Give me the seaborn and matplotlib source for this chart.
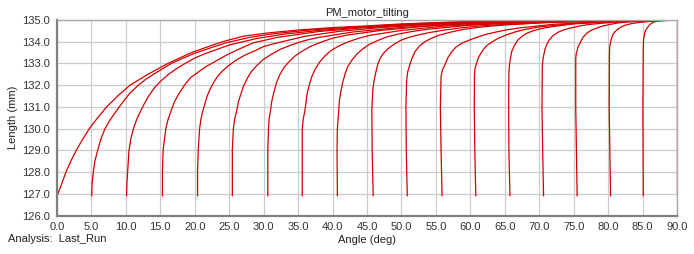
import matplotlib
matplotlib.use("Agg")
import matplotlib.pyplot as plt
import seaborn as sns
import pandas as pd

# ---------------- data ----------------
curve_00 = [(0.0, 126.9), (0.5, 127.3), (1.3, 128.0), (2.0, 128.5), (2.8, 129.0), (3.7, 129.5),
            (4.7, 130.0), (5.9, 130.5), (7.2, 131.0), (8.8, 131.5), (10.6, 132.0), (13.2, 132.5),
            (16.1, 133.0), (19.5, 133.5), (24.0, 134.0), (27.0, 134.25), (30.5, 134.4), (35.0, 134.54),
            (40.0, 134.65), (45.0, 134.73), (50.0, 134.82), (57.0, 134.9), (65.0, 134.96), (75.0, 134.99),
            (90.0, 135.0)]
curve_05 = [(5.03, 126.9), (5.1, 127.5), (5.27, 128.0), (5.5, 128.5), (5.9, 129.0), (6.35, 129.5),
            (6.97, 130.0), (7.7, 130.4), (8.7, 130.85), (9.5, 131.2), (10.5, 131.6), (11.8, 132.0),
            (12.8, 132.25), (14.0, 132.5), (16.6, 133.0), (19.8, 133.45), (24.5, 133.95), (28.0, 134.2),
            (31.0, 134.35), (36.0, 134.52), (41.0, 134.64), (46.0, 134.72), (52.0, 134.83), (60.0, 134.92),
            (70.0, 134.97), (90.0, 135.0)]
curve_10 = [(10.1, 126.9), (10.15, 127.5), (10.25, 128.0), (10.45, 129.0), (10.7, 129.5), (11.1, 130.0),
            (11.6, 130.45), (12.2, 130.85), (12.6, 131.1), (13.3, 131.5), (14.2, 131.9), (15.1, 132.2),
            (16.2, 132.5), (17.3, 132.75), (18.6, 133.0), (20.0, 133.25), (21.5, 133.45), (25.0, 133.85),
            (29.0, 134.15), (33.0, 134.35), (38.0, 134.52), (44.0, 134.66), (50.0, 134.77), (58.0, 134.88),
            (68.0, 134.96), (90.0, 135.0)]
curve_15 = [(15.3, 126.9), (15.3, 128.0), (15.4, 129.0), (15.8, 130.0), (16.1, 130.4), (16.6, 130.85),
            (17.0, 131.2), (17.5, 131.5), (18.5, 132.0), (19.4, 132.35), (20.5, 132.6), (21.6, 132.85),
            (23.0, 133.1), (24.4, 133.35), (26.0, 133.6), (28.5, 133.95), (32.0, 134.2), (38.0, 134.47),
            (44.0, 134.63), (50.0, 134.75), (58.0, 134.86), (68.0, 134.95), (90.0, 135.0)]
curve_20 = [(20.4, 126.9), (20.4, 128.0), (20.5, 129.0), (20.7, 130.0), (20.9, 130.45), (21.2, 130.85),
            (21.8, 131.5), (22.2, 131.8), (22.7, 132.1), (23.3, 132.4), (24.0, 132.65), (24.9, 132.9),
            (26.0, 133.15), (27.2, 133.37), (28.5, 133.55), (30.0, 133.78), (32.0, 133.95), (36.0, 134.25),
            (41.0, 134.48), (47.0, 134.65), (54.0, 134.79), (62.0, 134.9), (72.0, 134.96), (90.0, 135.0)]
curve_25 = [(25.45, 126.9), (25.45, 129.0), (25.6, 130.0), (25.8, 130.45), (26.1, 130.85), (26.35, 131.25),
            (26.7, 131.6), (27.1, 131.97), (27.6, 132.3), (28.2, 132.62), (29.0, 132.9), (29.9, 133.17),
            (31.0, 133.4), (32.4, 133.65), (34.0, 133.85), (35.8, 134.04), (38.0, 134.2), (43.0, 134.45),
            (49.0, 134.63), (56.0, 134.78), (64.0, 134.89), (74.0, 134.96), (90.0, 135.0)]
curve_30 = [(30.6, 126.9), (30.6, 129.0), (30.7, 130.0), (30.8, 130.45), (31.0, 130.85), (31.2, 131.3),
            (31.5, 131.7), (31.85, 132.1), (32.3, 132.45), (32.9, 132.8), (33.6, 133.05), (34.5, 133.33),
            (35.5, 133.55), (36.9, 133.8), (38.5, 134.0), (40.0, 134.16), (42.0, 134.3), (47.0, 134.52),
            (53.0, 134.7), (60.0, 134.83), (68.0, 134.92), (77.0, 134.97), (90.0, 135.0)]
curve_35 = [(35.6, 126.9), (35.6, 130.0), (35.75, 130.45), (36.0, 130.85), (36.3, 131.6), (36.6, 132.0),
            (37.0, 132.4), (37.5, 132.75), (38.1, 133.05), (38.9, 133.35), (39.8, 133.6), (41.0, 133.82),
            (42.3, 134.0), (43.8, 134.16), (45.5, 134.3), (50.0, 134.52), (56.0, 134.71), (63.0, 134.84),
            (71.0, 134.93), (80.0, 134.97), (90.0, 135.0)]
curve_40 = [(40.7, 126.9), (40.65, 129.0), (40.7, 130.0), (40.9, 130.85), (41.0, 131.3), (41.2, 131.7),
            (41.45, 132.1), (41.8, 132.5), (42.2, 132.85), (42.8, 133.15), (43.5, 133.42), (44.3, 133.65),
            (45.3, 133.87), (46.5, 134.05), (47.9, 134.22), (49.5, 134.35), (51.5, 134.47), (54.0, 134.58),
            (60.0, 134.76), (67.0, 134.87), (75.0, 134.94), (90.0, 135.0)]
curve_45 = [(45.9, 126.9), (45.75, 129.0), (45.7, 130.85), (45.85, 131.8), (46.05, 132.25), (46.3, 132.62),
            (46.55, 132.95), (46.9, 133.23), (47.4, 133.47), (48.1, 133.69), (49.0, 133.9), (50.0, 134.08),
            (51.1, 134.2), (52.4, 134.31), (54.2, 134.43), (56.3, 134.54), (58.5, 134.63), (61.1, 134.72),
            (65.0, 134.8), (72.0, 134.9), (80.0, 134.96), (90.0, 135.0)]
curve_50 = [(50.85, 126.9), (50.7, 129.0), (50.65, 131.0), (50.75, 132.2), (50.9, 132.6), (51.2, 132.93),
            (51.55, 133.25), (51.96, 133.54), (52.6, 133.8), (53.4, 134.0), (54.3, 134.15), (55.3, 134.28),
            (56.5, 134.39), (57.8, 134.49), (59.3, 134.58), (61.2, 134.66), (63.0, 134.72), (65.0, 134.77),
            (71.0, 134.88), (79.0, 134.95), (90.0, 135.0)]
curve_55 = [(55.9, 126.9), (55.75, 129.0), (55.65, 131.0), (55.75, 132.4), (55.95, 132.7), (56.3, 132.93),
            (56.75, 133.27), (57.3, 133.54), (57.9, 133.75), (58.7, 133.92), (59.8, 134.07), (61.2, 134.23),
            (62.3, 134.34), (63.5, 134.43), (65.0, 134.53), (67.0, 134.63), (72.0, 134.8), (79.0, 134.92),
            (90.0, 135.0)]
curve_60 = [(60.8, 126.9), (60.65, 129.0), (60.57, 131.0), (60.6, 132.5), (60.7, 132.8), (60.9, 133.0),
            (61.15, 133.25), (61.5, 133.45), (61.95, 133.67), (62.5, 133.85), (63.2, 134.0), (64.0, 134.15),
            (65.1, 134.3), (66.5, 134.45), (68.0, 134.57), (70.0, 134.68), (75.0, 134.84), (82.0, 134.94),
            (90.0, 135.0)]
curve_65 = [(65.75, 126.9), (65.6, 129.0), (65.56, 131.0), (65.6, 132.6), (65.7, 132.95), (65.8, 133.2),
            (66.0, 133.54), (66.4, 133.83), (66.9, 134.08), (67.5, 134.25), (68.2, 134.39), (69.1, 134.5),
            (70.1, 134.59), (71.2, 134.66), (72.5, 134.72), (75.0, 134.82), (79.0, 134.9), (84.0, 134.96),
            (90.0, 135.0)]
curve_70 = [(70.63, 126.9), (70.5, 129.0), (70.4, 131.0), (70.45, 132.9), (70.55, 133.2), (70.7, 133.45),
            (70.85, 133.67), (71.07, 133.85), (71.45, 134.08), (72.0, 134.28), (72.7, 134.43), (73.5, 134.54),
            (74.4, 134.62), (75.4, 134.69), (76.3, 134.75), (77.4, 134.8), (80.5, 134.89), (85.0, 134.95),
            (90.0, 135.0)]
curve_75 = [(75.5, 126.9), (75.4, 129.0), (75.3, 131.0), (75.3, 133.2), (75.35, 133.42), (75.5, 133.6),
            (75.65, 133.78), (75.9, 133.92), (76.3, 134.18), (76.9, 134.39), (77.5, 134.52), (78.3, 134.62),
            (79.2, 134.72), (80.3, 134.8), (81.6, 134.87), (83.2, 134.92), (86.5, 134.97), (90.0, 135.0)]
curve_80 = [(80.36, 126.9), (80.25, 129.0), (80.16, 131.0), (80.2, 133.5), (80.22, 133.72), (80.3, 133.9),
            (80.5, 134.16), (80.7, 134.33), (81.0, 134.46), (81.4, 134.58), (81.95, 134.69), (82.5, 134.76),
            (83.2, 134.82), (83.9, 134.86), (84.6, 134.89), (86.55, 134.95), (90.0, 135.0)]
curve_85 = [(85.1, 126.9), (85.05, 131.0), (85.1, 133.7), (85.15, 134.1), (85.3, 134.39), (85.5, 134.56),
            (85.8, 134.69), (86.1, 134.8), (86.5, 134.89), (87.0, 134.94), (87.5, 134.97), (90.0, 135.0)]
curve_90 = [(90.0, 126.9), (90.0, 135.0)]

curve_names = ["0", "5", "10", "15", "20", "25", "30", "35", "40", "45",
               "50", "55", "60", "65", "70", "75", "80", "85", "90"]
curves = [curve_00, curve_05, curve_10, curve_15, curve_20, curve_25, curve_30, curve_35, curve_40,
          curve_45, curve_50, curve_55, curve_60, curve_65, curve_70, curve_75, curve_80, curve_85, curve_90]

x_ticks = [0, 5, 10, 15, 20, 25, 30, 35, 40, 45, 50, 55, 60, 65, 70, 75, 80, 85, 90]
y_ticks = [126, 127, 128, 129, 130, 131, 132, 133, 134, 135]

title_text = "PM_motor_tilting"
x_label = "Angle (deg)"
y_label = "Length (mm)"
footer_text = "Analysis:  Last_Run"

# ---------------- build table ----------------
rows = []
for name, pts in zip(curve_names, curves):
    for i, (a, l) in enumerate(pts):
        rows.append({"curve": name, "order": i, "angle": a, "length": l})
df = pd.DataFrame(rows)

# ---------------- draw ----------------
sns.set_style("white")
plt.rcParams["font.family"] = ["Liberation Sans", "DejaVu Sans"]

W, H = 694, 254
fig = plt.figure(figsize=(W / 100, H / 100), dpi=100)
left, right, top, bottom = 57, 677, 20, 215.5
ax = fig.add_axes([left / W, 1 - bottom / H, (right - left) / W, (bottom - top) / H])

sns.lineplot(data=df, x="angle", y="length", hue="curve", palette=["#d40000"] * len(curve_names),
             sort=False, estimator=None, legend=False, linewidth=0.9, ax=ax)

ax.set_xlim(0, 90)
ax.set_ylim(126, 135)
ax.set_xticks(x_ticks)
ax.set_xticklabels([f"{v:.1f}" for v in x_ticks])
ax.set_yticks(y_ticks)
ax.set_yticklabels([f"{v:.1f}" for v in y_ticks])
ax.tick_params(axis="both", labelsize=8, colors="#333333", length=3, width=0.8, pad=2)
ax.tick_params(axis="both", color="#999999")
ax.grid(True, color="#cccccc", linewidth=0.9)
ax.set_axisbelow(True)

for s in ["left", "bottom"]:
    ax.spines[s].set_color("#808080")
    ax.spines[s].set_linewidth(1.6)
for s in ["top", "right"]:
    ax.spines[s].set_color("#a8a8a8")
    ax.spines[s].set_linewidth(1.0)

ax.set_title(title_text, fontsize=8, color="#222222", pad=3)
ax.set_xlabel(x_label, fontsize=8, color="#222222", labelpad=2)
ax.set_ylabel(y_label, fontsize=8, color="#222222", labelpad=3)
fig.text(8 / W, 1 - 239 / H, footer_text, fontsize=8, color="#222222", ha="left", va="center")

fig.savefig("out.png", dpi=100)
